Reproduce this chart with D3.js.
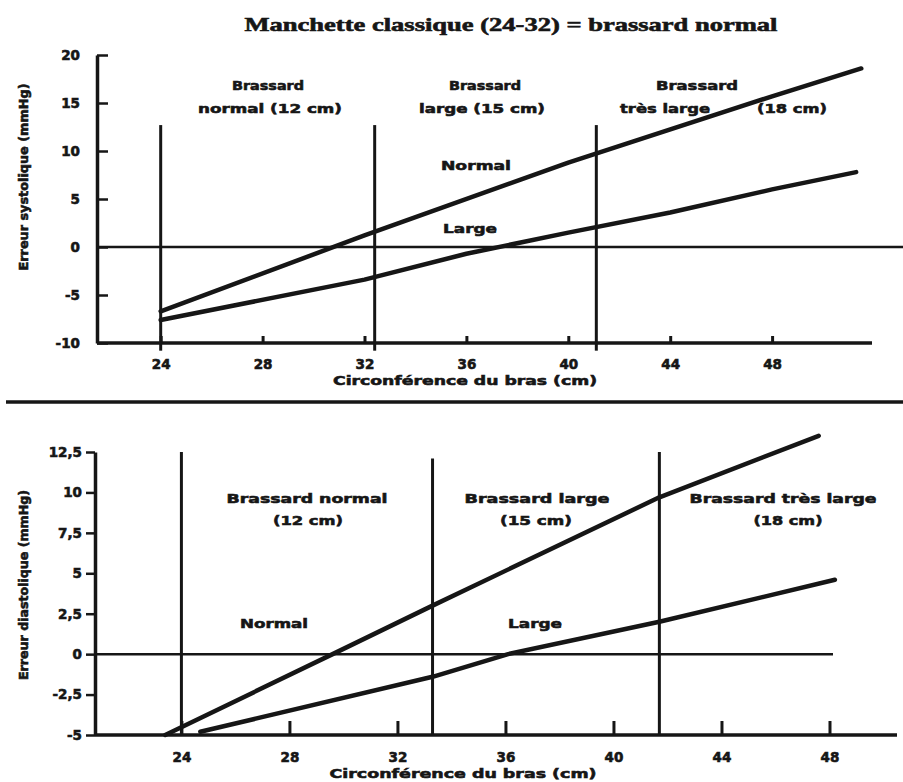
<!DOCTYPE html>
<html>
<head>
<meta charset="utf-8">
<script src="https://cdn.jsdelivr.net/npm/d3@7"></script>
<style>
  html, body { margin: 0; padding: 0; background: #fff; }
  svg { display: block; }
  text { font-family: "DejaVu Sans", sans-serif; font-weight: bold; fill: #161616; stroke: #161616; stroke-width: 0.6px; }
</style>
</head>
<body>
<svg id="chart" width="903" height="782"></svg>
<script>
// ---------- DATA ----------
const title = "Manchette classique (24-32) = brassard normal";
const xTicks = [24, 28, 32, 36, 40, 44, 48];
const xLabel = "Circonférence du bras (cm)";

// Top chart: systolic error
const sysYTicks = [-10, -5, 0, 5, 10, 15, 20];
const sysYLabel = "Erreur systolique (mmHg)";
const sysNormalX = [24, 32, 40, 48, 51.5];
const sysNormalY = [-6.7, 1.2, 8.8, 15.7, 18.6];
const sysLargeX = [24, 32, 36, 40, 44, 48, 51.3];
const sysLargeY = [-7.6, -3.4, -0.7, 1.5, 3.6, 6.0, 7.8];
const sysCuffBounds = [24, 32.4, 41.1];

// Bottom chart: diastolic error
const diaYTicks = [-5, -2.5, 0, 2.5, 5, 7.5, 10, 12.5];
const diaYLabel = "Erreur diastolique (mmHg)";
const diaNormalX = [23.4, 29.6, 33.3, 41.7, 47.6];
const diaNormalY = [-5.0, 0.0, 3.0, 9.7, 13.5];
const diaLargeX = [24.7, 33.3, 36.1, 41.7, 48.2];
const diaLargeY = [-4.8, -1.4, 0.0, 2.0, 4.6];
const diaCuffBounds = [24, 33.3, 41.7];

const seriesNames = ["Normal", "Large"];
const cuffNames = ["Brassard", "normal (12 cm)", "large (15 cm)", "très large", "(18 cm)"];

// ---------- LAYOUT ----------
const svg = d3.select("#chart");
const ink = "#161616";
const frFmt = d => String(d).replace(".", ",");

// Title
svg.append("text").attr("x", 511).attr("y", 31).attr("text-anchor", "middle")
  .style("font-family", "'Liberation Serif', 'DejaVu Serif', serif")
  .style("font-size", "19px")
  .attr("textLength", 533).attr("lengthAdjust", "spacingAndGlyphs")
  .text(title);

function txt(g, x, y, s, size, len, anchor) {
  const t = g.append("text").attr("x", x).attr("y", y)
    .attr("text-anchor", anchor || "middle")
    .style("font-size", (size || 13) + "px").text(s);
  if (len) t.attr("textLength", len).attr("lengthAdjust", "spacingAndGlyphs");
  return t;
}

function drawLine(g, x, y, xs, ys, w) {
  const pts = xs.map((v, i) => [v, ys[i]]);
  g.append("path").datum(pts)
    .attr("fill", "none").attr("stroke", ink).attr("stroke-width", w)
    .attr("stroke-linecap", "round").attr("stroke-linejoin", "round")
    .attr("d", d3.line().x(d => x(d[0])).y(d => y(d[1])));
}

function styleTicks(a) {
  a.selectAll(".tick text").style("font-size", "13.5px")
    .style("font-family", "'DejaVu Sans', sans-serif")
    .style("stroke", ink).style("stroke-width", "0.6px");
}

// ===== TOP CHART =====
{
  const g = svg.append("g");
  const x = d3.scaleLinear().domain([21.5, 52]).range([97, 874]);
  const y = d3.scaleLinear().domain([-10, 20]).range([343, 55]);

  const ya = g.append("g").attr("transform", "translate(97,0)")
    .call(d3.axisLeft(y).tickValues(sysYTicks).tickSize(-11).tickPadding(17).tickSizeOuter(0).tickFormat(frFmt));
  ya.select(".domain").attr("stroke", ink).attr("stroke-width", 3.5);
  ya.selectAll(".tick line").attr("stroke", ink).attr("stroke-width", 2.5);
  styleTicks(ya);

  const xa = g.append("g").attr("transform", "translate(0,343)")
    .call(d3.axisBottom(x).tickValues(xTicks).tickSize(-7).tickPadding(16).tickSizeOuter(0));
  xa.select(".domain").attr("stroke", ink).attr("stroke-width", 3.5).attr("d", "M97,0H872");
  xa.selectAll(".tick line").attr("stroke", ink).attr("stroke-width", 3);
  styleTicks(xa);

  g.append("line").attr("x1", 97).attr("x2", 903).attr("y1", y(0)).attr("y2", y(0))
    .attr("stroke", ink).attr("stroke-width", 2.5);

  g.selectAll(".bound").data(sysCuffBounds).enter().append("line")
    .attr("x1", d => x(d)).attr("x2", d => x(d))
    .attr("y1", y(12.7)).attr("y2", y(-10.8))
    .attr("stroke", ink).attr("stroke-width", 3);

  drawLine(g, x, y, sysNormalX, sysNormalY, 4.5);
  drawLine(g, x, y, sysLargeX, sysLargeY, 4.5);

  txt(g, 268, 90, cuffNames[0], 13, 72);
  txt(g, 270, 113, cuffNames[1], 13, 144);
  txt(g, 485, 90, cuffNames[0], 13, 72);
  txt(g, 482, 113, cuffNames[2], 13, 126);
  txt(g, 697, 90, cuffNames[0], 13, 82);
  txt(g, 665, 113, cuffNames[3], 13, 90);
  txt(g, 792, 113, cuffNames[4], 13, 70);
  txt(g, 476, 170, seriesNames[0], 13, 70);
  txt(g, 470, 233, seriesNames[1], 13, 54);

  txt(g, 465, 385, xLabel, 13, 264);
  txt(g, 0, 0, sysYLabel, 12, 187).attr("transform", "translate(28,177) rotate(-90)");
}

// separator
svg.append("line").attr("x1", 6).attr("x2", 903).attr("y1", 402).attr("y2", 402)
  .attr("stroke", ink).attr("stroke-width", 3.5);

// ===== BOTTOM CHART =====
{
  const g = svg.append("g");
  const x = d3.scaleLinear().domain([20.8, 50.5]).range([95, 897]);
  const y = d3.scaleLinear().domain([-5, 12.5]).range([735, 452]);

  const ya = g.append("g").attr("transform", "translate(95,0)")
    .call(d3.axisLeft(y).tickValues(diaYTicks).tickSize(9).tickPadding(4).tickSizeOuter(0).tickFormat(frFmt));
  ya.select(".domain").attr("stroke", ink).attr("stroke-width", 3.5);
  ya.selectAll(".tick line").attr("stroke", ink).attr("stroke-width", 2.5);
  styleTicks(ya);

  const xa = g.append("g").attr("transform", "translate(0,735)")
    .call(d3.axisBottom(x).tickValues(xTicks).tickSize(-14).tickPadding(17).tickSizeOuter(0));
  xa.select(".domain").attr("stroke", ink).attr("stroke-width", 3.5).attr("d", "M95,0H897");
  xa.selectAll(".tick line").attr("stroke", ink).attr("stroke-width", 3);
  styleTicks(xa);

  g.append("line").attr("x1", 95).attr("x2", 833).attr("y1", y(0)).attr("y2", y(0))
    .attr("stroke", ink).attr("stroke-width", 2.5);

  g.selectAll(".bound").data(diaCuffBounds).enter().append("line")
    .attr("x1", d => x(d)).attr("x2", d => x(d))
    .attr("y1", (d, i) => i === 1 ? y(12.1) : y(12.5)).attr("y2", y(-5))
    .attr("stroke", ink).attr("stroke-width", 3);

  drawLine(g, x, y, diaNormalX, diaNormalY, 4.5);
  drawLine(g, x, y, diaLargeX, diaLargeY, 4.5);

  txt(g, 307, 503, cuffNames[0] + " normal", 13, 161);
  txt(g, 308, 525, "(12 cm)", 13, 70);
  txt(g, 537, 503, cuffNames[0] + " large", 13, 145);
  txt(g, 536, 525, "(15 cm)", 13, 72);
  txt(g, 783, 503, cuffNames[0] + " très large", 13, 187);
  txt(g, 788, 525, "(18 cm)", 13, 69);
  txt(g, 274, 628, seriesNames[0], 13, 68);
  txt(g, 535, 628, seriesNames[1], 13, 54);

  txt(g, 463, 778, xLabel, 13, 267);
  txt(g, 0, 0, diaYLabel, 12, 190).attr("transform", "translate(28,585) rotate(-90)");
}
</script>
</body>
</html>
